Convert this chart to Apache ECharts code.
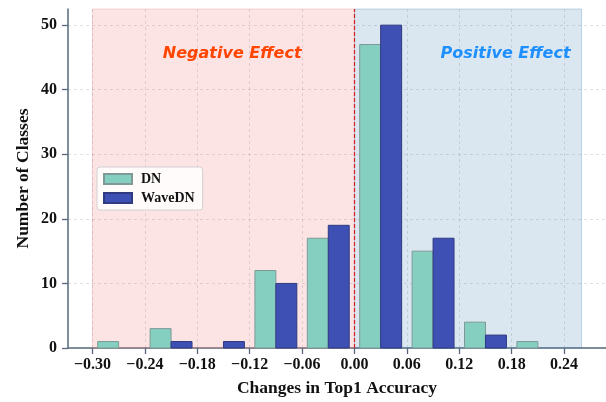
<!DOCTYPE html>
<html>
<head>
<meta charset="utf-8">
<script src="https://cdn.jsdelivr.net/npm/echarts@6/dist/echarts.min.js"></script>
<style>
  html, body { margin: 0; padding: 0; background: #fff; }
  #chart { width: 606px; height: 402px; }
</style>
</head>
<body>
<div id="chart"></div>
<script>
// histogram of per-class top1 change, DN vs WaveDN
const binCenters = [-0.27, -0.21, -0.15, -0.09, -0.03, 0.03, 0.09, 0.15, 0.21]
const dnCounts = [1, 3, 0, 12, 17, 47, 15, 4, 1]
const waveCounts = [0, 1, 1, 10, 19, 50, 17, 2, 0]
const xTicks = [-0.30, -0.24, -0.18, -0.12, -0.06, 0.00, 0.06, 0.12, 0.18, 0.24]
const yTicks = [0, 10, 20, 30, 40, 50]
const negSpan = [-0.30, 0]
const posSpan = [0, 0.26]
const notes = [
  { name: 'Negative Effect', value: [-0.14, 45.6], color: '#ff4500' },
  { name: 'Positive Effect', value: [0.173, 45.6], color: '#1e8fff' },
]

const barW = 0.024
const serif = 'Liberation Serif'
const fmt = v => (v < 0 ? '\u2212' : '') + Math.abs(v).toFixed(2)

function barRenderer(from, to, fill, stroke) {
  return function (params, api) {
    const x = api.value(0)
    const y = api.value(1)
    if (!y) return null
    const p0 = api.coord([x + from, y])
    const p1 = api.coord([x + to, 0])
    return {
      type: 'rect',
      shape: { x: p0[0], y: p0[1], width: p1[0] - p0[0], height: p1[1] - p0[1] },
      style: { fill: fill, stroke: stroke, lineWidth: 1 },
    }
  }
}

const chart = echarts.init(document.getElementById('chart'))
const axisColor = '#56687a'
const gridLine = { color: 'rgba(120,120,120,0.22)', type: [3, 3], width: 1 }

chart.setOption({
  animation: false,
  grid: { left: 68, top: 9, width: 539, height: 340.5 },
  legend: {
    orient: 'vertical',
    left: 97,
    top: 167,
    data: ['DN', 'WaveDN'],
    icon: 'rect',
    itemWidth: 28,
    itemHeight: 10,
    itemGap: 5,
    padding: [5, 8, 5, 6],
    backgroundColor: 'rgba(255,255,255,0.85)',
    borderColor: '#d0d0d0',
    borderWidth: 1,
    borderRadius: 3,
    textStyle: { fontFamily: serif, fontWeight: 'bold', fontSize: 14, color: '#111', padding: [0, 0, 0, 4] },
  },
  xAxis: {
    type: 'value',
    min: -0.328,
    max: 0.288,
    name: 'Changes in Top1 Accuracy',
    nameLocation: 'middle',
    nameGap: 31,
    nameTextStyle: { fontFamily: serif, fontWeight: 'bold', fontSize: 17.5, color: '#111' },
    axisLine: { onZero: false, lineStyle: { color: axisColor, width: 1.5 } },
    axisTick: { show: true, length: 6, lineStyle: { color: axisColor, width: 1.3 }, customValues: xTicks },
    axisLabel: {
      customValues: xTicks,
      formatter: fmt,
      margin: 9,
      fontFamily: serif, fontWeight: 'bold', fontSize: 16, color: '#111',
    },
    splitLine: { show: false },
  },
  yAxis: {
    type: 'value',
    min: 0,
    max: 52.5,
    name: 'Number of Classes',
    nameLocation: 'middle',
    nameGap: 36,
    nameMoveOverlap: false,
    nameTextStyle: { fontFamily: serif, fontWeight: 'bold', fontSize: 17.5, color: '#111' },
    axisLine: { show: true, onZero: false, lineStyle: { color: axisColor, width: 1.5 } },
    axisTick: { show: true, length: 6, lineStyle: { color: axisColor, width: 1.3 }, customValues: yTicks },
    axisLabel: {
      customValues: yTicks,
      margin: 11,
      fontFamily: serif, fontWeight: 'bold', fontSize: 16, color: '#111',
    },
    splitLine: { show: false },
  },
  series: [
    {
      name: 'spans',
      type: 'line',
      data: [],
      z: 1,
      markArea: {
        silent: true,
        z: 1,
        data: [
          [{ xAxis: negSpan[0], itemStyle: { color: 'rgba(244,120,120,0.2)', borderColor: 'rgba(230,110,110,0.25)', borderWidth: 1 } }, { xAxis: negSpan[1] }],
          [{ xAxis: posSpan[0], itemStyle: { color: 'rgba(70,130,180,0.2)', borderColor: 'rgba(70,130,180,0.3)', borderWidth: 1 } }, { xAxis: posSpan[1] }],
        ],
      },
    },
    {
      name: 'gridlines',
      type: 'line',
      data: [],
      z: 2,
      markLine: {
        silent: true,
        z: 2,
        symbol: 'none',
        label: { show: false },
        lineStyle: gridLine,
        emphasis: { disabled: true },
        data: xTicks.map(v => ({ xAxis: v })).concat(yTicks.slice(1).map(v => ({ yAxis: v }))),
      },
    },
    {
      name: 'DN',
      type: 'custom',
      z: 3,
      itemStyle: { color: '#84cfc0', borderColor: '#7f9a96', borderWidth: 1 },
      renderItem: barRenderer(-barW, 0, '#84cfc0', '#7f9a96'),
      data: binCenters.map((c, i) => [c, dnCounts[i]]),
    },
    {
      name: 'WaveDN',
      type: 'custom',
      z: 3,
      itemStyle: { color: '#3f50b5', borderColor: '#2f3a80', borderWidth: 1 },
      renderItem: barRenderer(0, barW, '#3f50b5', '#2f3a80'),
      data: binCenters.map((c, i) => [c, waveCounts[i]]),
    },
    {
      name: 'zero',
      type: 'line',
      data: [],
      z: 4,
      markLine: {
        silent: true,
        z: 4,
        symbol: 'none',
        label: { show: false },
        lineStyle: { color: '#d42020', type: [4, 2], width: 1.2 },
        data: [{ xAxis: 0 }],
      },
    },
    {
      name: 'notes',
      type: 'scatter',
      z: 5,
      symbolSize: 0,
      silent: true,
      itemStyle: { opacity: 1 },
      data: notes.map(n => ({ name: n.name, value: n.value, label: { color: n.color } })),
      label: {
        show: true,
        position: 'inside',
        formatter: p => p.name,
        fontFamily: 'DejaVu Sans',
        fontStyle: 'italic',
        fontWeight: 'bold',
        fontSize: 16,
      },
    },
  ],
})
</script>
</body>
</html>
